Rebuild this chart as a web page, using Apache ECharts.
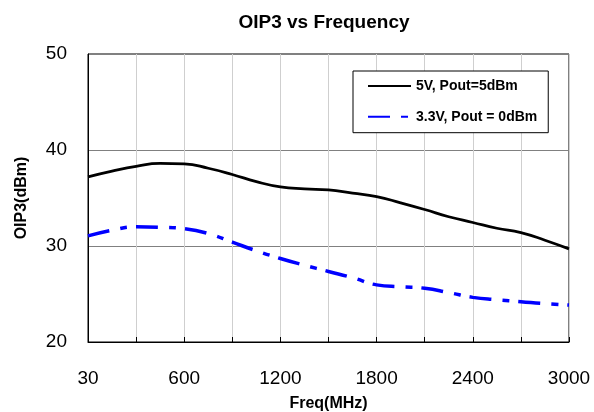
<!DOCTYPE html>
<html>
<head>
<meta charset="utf-8">
<script src="https://cdn.jsdelivr.net/npm/echarts@6/dist/echarts.min.js"></script>
<style>
  html, body { margin: 0; padding: 0; background: #fff; }
  #chart { width: 594px; height: 412px; }
</style>
</head>
<body>
<div id="chart"></div>
<script>
// Frequency points (MHz), evenly spaced along the category axis
const freqs = [30, 150, 300, 450, 600, 750, 900, 1050, 1200, 1350, 1500,
               1650, 1800, 1950, 2100, 2250, 2400, 2550, 2700, 2850, 3000];

// OIP3 (dBm) for each bias / output power condition
const oip3_5V = [37.2, 37.8, 38.3, 38.6, 38.55, 38.1, 37.45, 36.7, 36.15, 35.95, 35.85,
                 35.5, 35.15, 34.5, 33.8, 33.05, 32.45, 31.85, 31.4, 30.6, 29.7];
const oip3_3V3 = [31.05, 31.65, 32.0, 31.95, 31.8, 31.3, 30.4, 29.5, 28.7, 28.0, 27.35,
                  26.7, 25.95, 25.75, 25.6, 25.15, 24.65, 24.4, 24.2, 24.0, 23.85];

const seriesNames = ['5V, Pout=5dBm', '3.3V, Pout = 0dBm'];
const yTicks = { min: 20, max: 50, step: 10 };

const FONT = 'Liberation Sans, Arial, Helvetica, sans-serif';

const chart = echarts.init(document.getElementById('chart'), null, { renderer: 'canvas' });

chart.setOption({
  backgroundColor: '#ffffff',
  animation: false,
  graphic: [{
    type: 'text',
    x: 324,
    y: 23,
    style: {
      text: 'OIP3 vs Frequency',
      fontFamily: FONT,
      fontSize: 19,
      fontWeight: 'bold',
      fill: '#000',
      textAlign: 'center',
      textVerticalAlign: 'middle'
    }
  }],
  grid: {
    left: 88, right: 25, top: 54, bottom: 70,
    containLabel: false,
    outerBoundsMode: 'none',
    show: true,
    borderColor: '#000',
    borderWidth: 1,
    backgroundColor: '#fff'
  },
  legend: {
    orient: 'vertical',
    left: 353,
    top: 71,
    padding: [8, 11, 9, 14],
    itemWidth: 43,
    itemHeight: 14,
    itemGap: 16.7,
    backgroundColor: '#fff',
    borderColor: '#000',
    borderWidth: 1,
    itemStyle: { opacity: 0 },
    textStyle: { fontFamily: FONT, fontSize: 14, fontWeight: 'bold', color: '#000' },
    data: seriesNames
  },
  xAxis: {
    type: 'category',
    data: freqs.map(String),
    boundaryGap: false,
    name: 'Freq(MHz)',
    nameLocation: 'middle',
    nameGap: 54,
    nameTextStyle: { fontFamily: FONT, fontSize: 16, fontWeight: 'bold', color: '#000' },
    axisLine: { lineStyle: { color: '#000', width: 1 } },
    axisTick: { show: true, inside: true, length: 5, interval: 1, lineStyle: { color: '#000' } },
    axisLabel: { interval: 3, margin: 27, fontFamily: FONT, fontSize: 19, color: '#000' },
    splitLine: { show: true, interval: 1, lineStyle: { color: '#cfcfcf', width: 1 } }
  },
  yAxis: {
    type: 'value',
    min: yTicks.min,
    max: yTicks.max,
    interval: yTicks.step,
    name: 'OIP3(dBm)',
    nameLocation: 'middle',
    nameGap: 58,
    nameTextStyle: { fontFamily: FONT, fontSize: 16, fontWeight: 'bold', color: '#000' },
    axisLine: { show: true, lineStyle: { color: '#000', width: 1 } },
    axisTick: { show: false },
    axisLabel: { margin: 21, fontFamily: FONT, fontSize: 19, color: '#000' },
    splitLine: { show: true, lineStyle: { color: '#808080', width: 1 } }
  },
  series: [
    {
      name: seriesNames[0],
      type: 'line',
      data: oip3_5V,
      smooth: 0.5,
      symbol: 'none',
      lineStyle: { color: '#000', width: 2.75 },
      itemStyle: { color: '#000' }
    },
    {
      name: seriesNames[1],
      type: 'line',
      data: oip3_3V3,
      smooth: 0.5,
      symbol: 'none',
      lineStyle: { color: '#0000ff', width: 3.5, type: [22, 11, 7, 9] },
      itemStyle: { color: '#0000ff' }
    }
  ]
});
</script>
</body>
</html>
